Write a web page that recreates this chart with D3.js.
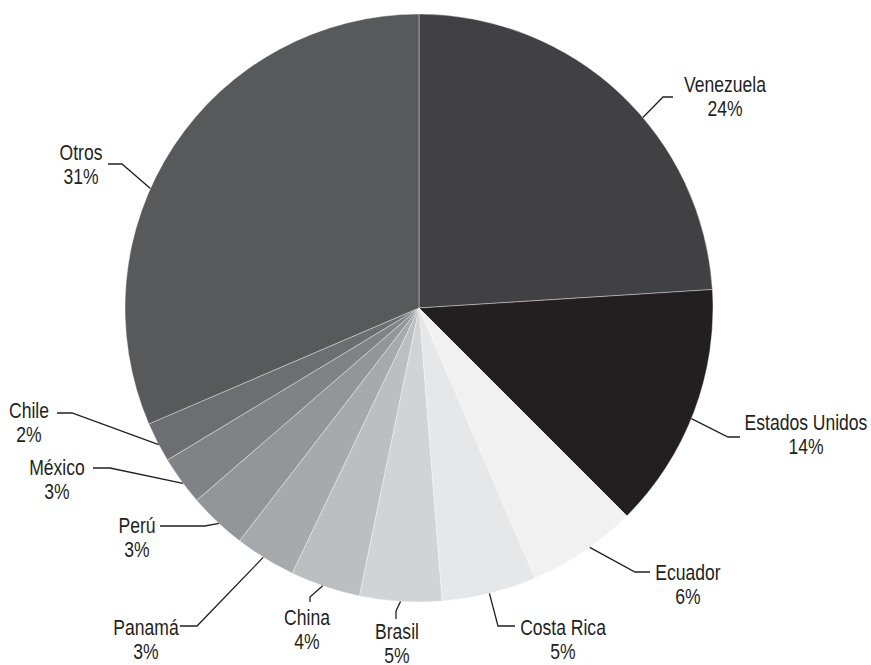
<!DOCTYPE html>
<html>
<head>
<meta charset="utf-8">
<script src="https://cdn.jsdelivr.net/npm/d3@7.9.0/dist/d3.min.js"></script>
<style>
  html, body { margin: 0; padding: 0; background: #fff; }
  svg { display: block; }
  .label { font-family: "Liberation Sans", Arial, sans-serif; font-size: 22.5px; fill: #231f20; }
</style>
</head>
<body>
<div id="chart"></div>
<script>
// Slices, clockwise from 12 o'clock
const countries = ['Venezuela', 'Estados Unidos', 'Ecuador', 'Costa Rica', 'Brasil', 'China',
                   'Panamá', 'Perú', 'México', 'Chile', 'Otros'];
const shares = [24.0, 13.5, 6.05, 5.2, 4.5, 3.85, 3.35, 3.2, 2.7, 2.2, 31.45];
const shareLabels = ['24%', '14%', '6%', '5%', '5%', '4%', '3%', '3%', '3%', '2%', '31%'];
const greys = ['#414042', '#231f20', '#f1f1f2', '#e6e7e8', '#d1d3d4', '#bcbec0',
               '#a7a9ac', '#939598', '#808285', '#6d6e71', '#58595b'];

const width = 871;
const height = 665;
const cx = 419, cy = 308, radius = 294;

// label placement: text centre + first baseline, leader elbow and end, angle nudge (deg)
const labelLayout = [
  { tx: 725, ty: 92,  elbow: [663, 97],  end: [673, 97],  nudge: 6.4 },
  { tx: 806, ty: 430, elbow: [728, 437], end: [740, 437], nudge: 1.4 },
  { tx: 688, ty: 580, elbow: [635, 572], end: [650, 572], nudge: -1.4 },
  { tx: 563, ty: 635, elbow: [498, 626], end: [515, 626], nudge: 0 },
  { tx: 397, ty: 639, elbow: [396, 611], end: [396, 619], nudge: 0 },
  { tx: 307, ty: 625, elbow: [310, 597], end: [310, 602], nudge: 0.5 },
  { tx: 146, ty: 635, elbow: [197, 626], end: [180, 626], nudge: 0.4 },
  { tx: 137, ty: 533, elbow: [205, 526], end: [160, 526], nudge: -0.5 },
  { tx: 57,  ty: 475, elbow: [110, 468], end: [93, 468],  nudge: -0.6 },
  { tx: 29,  ty: 418, elbow: [72, 413],  end: [57, 413],  nudge: -0.5 },
  { tx: 81,  ty: 160, elbow: [122, 164], end: [108, 164], nudge: -9.4 },
];

const data = countries.map((name, i) => ({ name, value: shares[i], label: shareLabels[i], color: greys[i] }));

const svg = d3.select('#chart')
  .append('svg')
  .attr('width', width)
  .attr('height', height);

const g = svg.append('g').attr('transform', `translate(${cx},${cy})`);

const pie = d3.pie().value(d => d.value).sort(null);
const arc = d3.arc().innerRadius(0).outerRadius(radius);
const arcs = pie(data);

g.selectAll('path.slice')
  .data(arcs)
  .join('path')
  .attr('class', 'slice')
  .attr('d', arc)
  .attr('fill', d => d.data.color)
  .attr('stroke', '#fff')
  .attr('stroke-opacity', 0.55)
  .attr('stroke-width', 0.7);

// leader lines
const line = d3.line();
svg.append('g')
  .selectAll('path')
  .data(arcs)
  .join('path')
  .attr('d', (d, i) => {
    const L = labelLayout[i];
    const a = (d.startAngle + d.endAngle) / 2 + L.nudge * Math.PI / 180;
    const start = [cx + radius * Math.sin(a), cy - radius * Math.cos(a)];
    return line([start, L.elbow, L.end]);
  })
  .attr('fill', 'none')
  .attr('stroke', '#231f20')
  .attr('stroke-width', 1.3);

// labels (narrowed to mimic a condensed face)
const labels = svg.append('g')
  .selectAll('text')
  .data(arcs)
  .join('text')
  .attr('class', 'label')
  .attr('text-anchor', 'middle')
  .attr('transform', (d, i) => `translate(${labelLayout[i].tx},${labelLayout[i].ty}) scale(0.78,1)`);

labels.append('tspan')
  .attr('x', 0)
  .text(d => d.data.name);
labels.append('tspan')
  .attr('x', 0)
  .attr('dy', 24)
  .text(d => d.data.label);
</script>
</body>
</html>
